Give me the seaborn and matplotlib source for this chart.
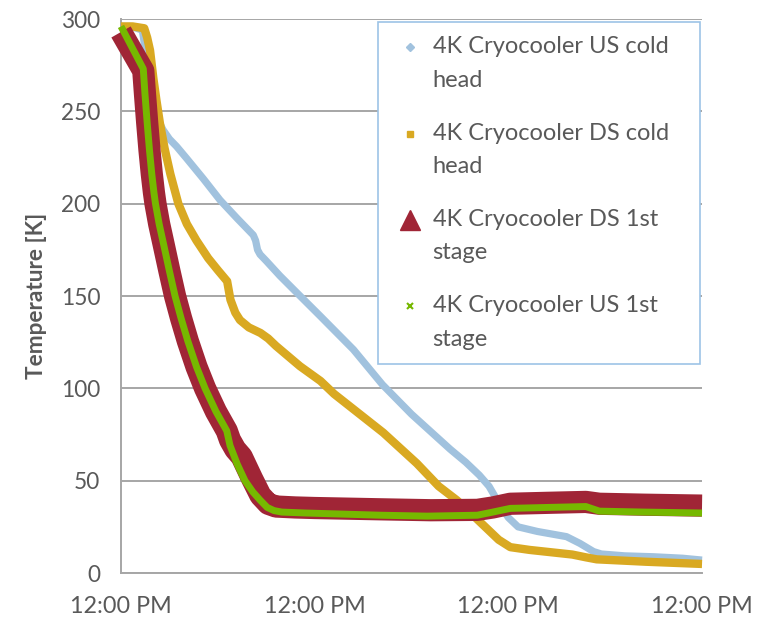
import matplotlib
matplotlib.use("Agg")
import numpy as np
import pandas as pd
import seaborn as sns
import matplotlib.pyplot as plt
import matplotlib.dates as mdates
from matplotlib.lines import Line2D
from matplotlib.ticker import MultipleLocator

# ---------------- data (x in days since first 12:00 PM tick) ----------------
series_names = ["4K Cryocooler US cold head", "4K Cryocooler DS cold head",
                "4K Cryocooler DS 1st stage", "4K Cryocooler US 1st stage"]
legend_labels = ["4K Cryocooler US cold\nhead", "4K Cryocooler DS cold\nhead",
                 "4K Cryocooler DS 1st\nstage", "4K Cryocooler US 1st\nstage"]

us_cold_days = [0, 0.05, 0.11, 0.13, 0.15, 0.175, 0.195, 0.217, 0.25, 0.287, 0.339,
                0.425, 0.511, 0.60, 0.683, 0.695, 0.705, 0.718, 0.75, 0.82, 0.92,
                1.03, 1.2, 1.35, 1.5, 1.70, 1.78, 1.85, 1.90, 1.95, 2.0, 2.05, 2.15,
                2.30, 2.37, 2.44, 2.48, 2.6, 2.75, 2.9, 3.0]
us_cold_temp = [296, 296, 294, 280, 264, 250, 244.5, 240, 235, 231, 224.5,
                213.5, 202, 192, 183, 180, 175, 172.5, 169, 161, 150.5,
                139, 121, 102, 86, 67, 60, 53, 47, 38, 30, 25, 22.5,
                19.7, 16, 11.6, 10.3, 9.3, 8.8, 8, 7]

ds_cold_days = [0, 0.06, 0.12, 0.135, 0.15, 0.167, 0.183, 0.201, 0.225, 0.255,
                0.296, 0.34, 0.39, 0.45, 0.50, 0.528, 0.548, 0.565, 0.59, 0.614,
                0.66, 0.72, 0.76, 0.80, 0.924, 1.03, 1.10, 1.354, 1.527, 1.64, 1.733,
                1.80, 1.88, 1.95, 2.01, 2.11, 2.33, 2.40, 2.456, 2.71, 3.0]
ds_cold_temp = [296, 296, 295, 290, 283, 268, 256, 243.5, 230, 216,
                200, 189, 180, 170.5, 164, 160.5, 158, 148, 141, 137,
                133, 130, 127, 123, 112, 104, 97, 76, 59.4, 47, 39.5,
                33, 25, 18, 14, 12.5, 10, 8.5, 7.4, 6.1, 4.9]

ds_1st_days = [0, 0.115, 0.124, 0.135, 0.147, 0.159, 0.170, 0.178, 0.197, 0.22,
               0.25, 0.279, 0.31, 0.345, 0.39, 0.434, 0.49, 0.546, 0.563, 0.59,
               0.623, 0.677, 0.72, 0.76, 0.80, 0.9, 1.0, 1.34, 1.6, 1.84, 1.92,
               2.01, 2.2, 2.40, 2.47, 2.7, 3.0]
ds_1st_temp = [293, 272, 259, 244, 229, 216, 206, 200, 189, 178,
               163.5, 150, 138, 125.6, 111.6, 100, 87.5, 77, 72, 67,
               63, 51, 42, 37.5, 36, 35.5, 35.2, 34.5, 34, 34.2, 35.5,
               37.5, 38, 38.5, 37.5, 37, 36.5]

us_1st_days = [0, 0.115, 0.124, 0.135, 0.147, 0.159, 0.170, 0.178, 0.197, 0.22,
               0.25, 0.279, 0.31, 0.345, 0.39, 0.434, 0.49, 0.546, 0.563, 0.60,
               0.64, 0.68, 0.718, 0.755, 0.79, 0.83, 0.95, 1.34, 1.58, 1.84, 1.92,
               2.01, 2.2, 2.40, 2.47, 2.7, 3.0]
us_1st_temp = [296, 273, 259, 244, 229, 216, 206, 200, 189, 178,
               163.5, 150, 138, 125.6, 111.6, 100, 87.5, 77, 69, 59,
               50, 44, 39.5, 35.5, 33.8, 33, 32.5, 31.3, 30.8, 31.3, 33,
               35, 35.5, 36, 33.5, 33, 32.5]

y_ticks = [0, 50, 100, 150, 200, 250, 300]
x_tick_label_format = "%I:%M %p"   # -> "12:00 PM"

colors = ["#A1C2DE", "#D9A922", "#A02536", "#76B800"]
widths = [5.2, 6.0, 16.0, 5.0]

start = pd.Timestamp("2014-01-06 12:00")
day_lists = [us_cold_days, ds_cold_days, ds_1st_days, us_1st_days]
temp_lists = [us_cold_temp, ds_cold_temp, ds_1st_temp, us_1st_temp]
frames = []
for name, d, t in zip(series_names, day_lists, temp_lists):
    frames.append(pd.DataFrame({"time": start + pd.to_timedelta(d, unit="D"),
                                "temp": t, "series": name}))
df = pd.concat(frames, ignore_index=True)

# ---------------- style ----------------
sns.set_style("white")
plt.rcParams["font.family"] = ["Lato", "DejaVu Sans"]
text_color = "#595959"
grid_color = "#A6A6A6"

fig = plt.figure(figsize=(7.63, 6.18), dpi=100)
ax = fig.add_axes([0.1586, 0.0728, 0.7615, 0.8964])

for i, name in enumerate(series_names):
    sub = df[df["series"] == name]
    sns.lineplot(data=sub, x="time", y="temp", color=colors[i], linewidth=widths[i],
                 estimator=None, sort=False, ax=ax, legend=False, zorder=3 + i)
for ln in ax.lines:
    ln.set_clip_on(False)
    ln.set_solid_capstyle("butt")
    ln.set_solid_joinstyle("round")

ax.set_xlim(start, start + pd.Timedelta(days=3))
ax.set_ylim(0, 300)
ax.xaxis.set_major_locator(mdates.HourLocator(byhour=[12]))
ax.xaxis.set_minor_locator(mdates.HourLocator(byhour=list(range(0, 24, 2))))
ax.xaxis.set_major_formatter(mdates.DateFormatter(x_tick_label_format))
ax.set_yticks(y_ticks)
ax.yaxis.set_minor_locator(MultipleLocator(10))

ax.grid(axis="y", which="major", color=grid_color, linewidth=1.4)
ax.grid(axis="x", visible=False)
ax.set_axisbelow(True)
for s in ["top", "right"]:
    ax.spines[s].set_visible(False)
for s in ["left", "bottom"]:
    ax.spines[s].set_color(grid_color)
    ax.spines[s].set_linewidth(1.4)

ax.tick_params(axis="y", which="major", direction="out", length=6, width=1.4,
               color=grid_color, labelcolor=text_color, labelsize=16.3, pad=9)
ax.tick_params(axis="y", which="minor", direction="in", length=4, width=1.2,
               color=grid_color)
ax.tick_params(axis="x", which="major", direction="inout", length=11, width=1.4,
               color=grid_color, labelcolor=text_color, labelsize=16.8, pad=11)
ax.tick_params(axis="x", which="minor", direction="in", length=4, width=1.2,
               color=grid_color)

ax.set_xlabel("")
ax.set_ylabel("Temperature [K]", fontsize=16.3, fontweight="bold", color=text_color)
ax.yaxis.set_label_coords(-0.128, 0.5)

# ---------------- legend ----------------
handles = [
    Line2D([], [], linestyle="none", marker="D", markersize=4, color=colors[0]),
    Line2D([], [], linestyle="none", marker="s", markersize=5, color=colors[1]),
    Line2D([], [], linestyle="none", marker="^", markersize=14, color=colors[2]),
    Line2D([], [], linestyle="none", marker="x", markersize=4, markeredgewidth=1.5,
           color=colors[3]),
]
leg = ax.legend(handles, legend_labels, loc="upper left",
                bbox_to_anchor=(0.442, 0.389, 0.555, 0.606), mode="expand",
                borderaxespad=0, borderpad=0.62, handlelength=1.45, handletextpad=0.25,
                labelspacing=1.33, fontsize=17, frameon=True, fancybox=False,
                framealpha=1, edgecolor="#9DC3E6", labelcolor=text_color)
leg.get_frame().set_linewidth(1.2)
leg.set_zorder(10)
for t in leg.get_texts():
    t.set_linespacing(1.75)

# align each legend marker with the first line of its label
shift_pt = 12.0
for col in leg._legend_handle_box.get_children():
    for item in col.get_children():
        hbox = item.get_children()[0]
        for art in hbox.get_children():
            if isinstance(art, Line2D):
                art.set_ydata(np.asarray(art.get_ydata(), dtype=float) + shift_pt)

fig.savefig("out.png", dpi=100)
